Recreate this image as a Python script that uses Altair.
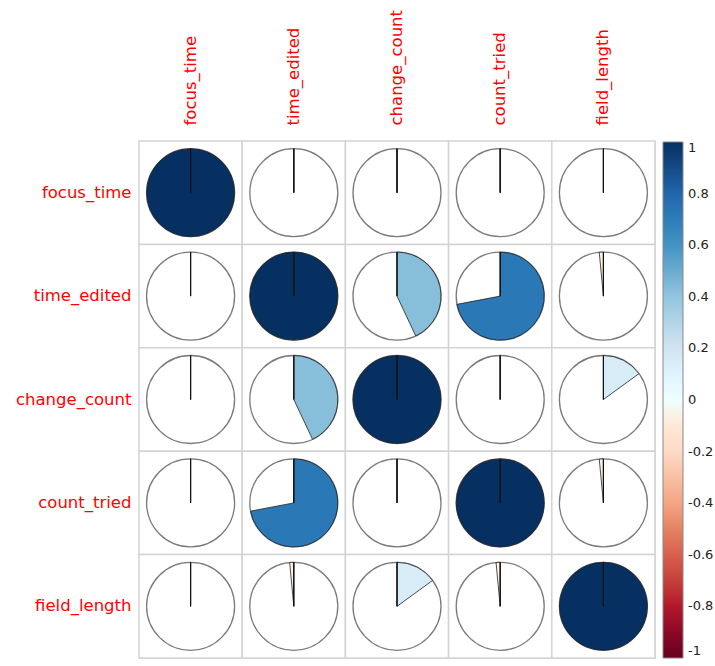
import math
import altair as alt
import pandas as pd

names = ["focus_time", "time_edited", "change_count", "count_tried", "field_length"]

corr = [
    [1.00, 0.00, 0.00, 0.00, 0.00],
    [0.00, 1.00, 0.43, 0.72, -0.015],
    [0.00, 0.43, 1.00, 0.00, 0.15],
    [0.00, 0.72, 0.00, 1.00, -0.015],
    [0.00, -0.015, 0.15, -0.015, 1.00],
]

color_stops = [-1, -0.8, -0.6, -0.4, -0.2, 0, 0.2, 0.4, 0.6, 0.8, 1]
color_range = ["#67001F", "#B2182B", "#D6604D", "#F4A582", "#FDDBC7", "#FFFFFF",
               "#D1E5F0", "#92C5DE", "#4393C3", "#2166AC", "#053061"]
legend_values = [1, 0.8, 0.6, 0.4, 0.2, 0, -0.2, -0.4, -0.6, -0.8, -1]

rows = []
for i, rname in enumerate(names):
    for j, cname in enumerate(names):
        v = corr[i][j]
        rows.append({"row": rname, "col": cname, "v": v, "t1": min(0, v), "t2": max(0, v)})
df = pd.DataFrame(rows)

FONT = "DejaVu Sans"
TAU = 2 * math.pi
R = 44

base = alt.Chart(df).encode(
    x=alt.X("col:N", sort=names, title=None,
            scale=alt.Scale(paddingInner=0, paddingOuter=0),
            axis=alt.Axis(orient="top", labelAngle=-90, labelAlign="left", labelBaseline="middle",
                          ticks=False, domain=False, labelColor="red", labelFontSize=16.5,
                          labelFont=FONT, labelPadding=16)),
    y=alt.Y("row:N", sort=names, title=None,
            scale=alt.Scale(paddingInner=0, paddingOuter=0),
            axis=alt.Axis(orient="left", ticks=False, domain=False, labelColor="red",
                          labelFontSize=16.5, labelFont=FONT, labelPadding=8)),
)

cells = base.mark_rect(fill="white", stroke="#d3d3d3", strokeWidth=1.5)

circles = base.mark_arc(radius=R, fill="white", stroke="#7a7a7a", strokeWidth=1.3).encode(
    theta=alt.value(0), theta2=alt.value(TAU + 0.001)
)

wedges = base.mark_arc(radius=R, stroke="#222222", strokeWidth=0.8).encode(
    theta=alt.Theta("t1:Q", stack=None, scale=alt.Scale(domain=[-1, 1], range=[-TAU, TAU])),
    theta2="t2:Q",
    fill=alt.Fill("v:Q",
                  scale=alt.Scale(domain=color_stops, range=color_range),
                  legend=alt.Legend(orient="none", legendX=524, legendY=1, direction="vertical",
                                    gradientLength=516, gradientThickness=20, title=None,
                                    values=legend_values,
                                    labelExpr="datum.value < 0 ? '-' + format(-datum.value, '.1~f') : format(datum.value, '.1~f')",
                                    labelFontSize=13, labelColor="#222222", labelFont=FONT,
                                    labelBaseline="middle", labelOverlap=False,
                                    gradientStrokeColor="#888888", gradientStrokeWidth=1,
                                    labelOffset=5)),
)

lines = base.mark_arc(radius=R, stroke="#111111", strokeWidth=1, fillOpacity=0).encode(
    theta=alt.value(0), theta2=alt.value(0)
)

chart = alt.layer(cells, circles, wedges, lines).properties(
    width=516, height=517,
    autosize=alt.AutoSizeParams(type="none"),
    padding={"left": 139, "top": 141, "right": 60, "bottom": 8},
).configure_view(stroke=None).configure(background="white")

chart.save("out.html", embed_options={"renderer": "svg", "actions": False})
